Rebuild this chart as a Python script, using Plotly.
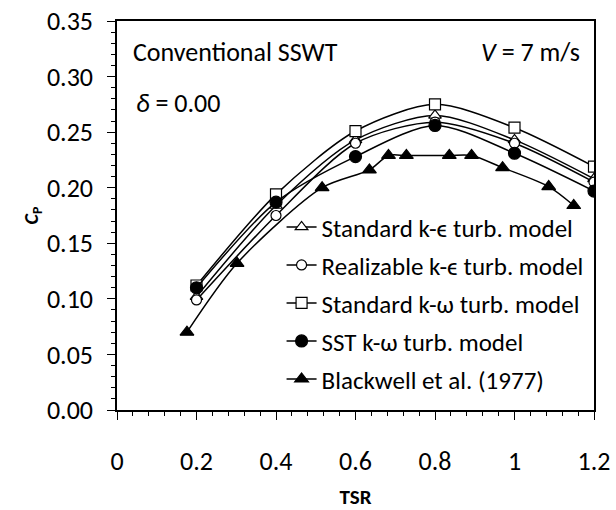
import plotly.graph_objects as go

# ---- data ----
tsr_cfd = [0.2, 0.4, 0.6, 0.8, 1.0, 1.2]
cp_std_ke = [0.102, 0.184, 0.243, 0.265, 0.243, 0.208]
cp_real_ke = [0.099, 0.175, 0.240, 0.259, 0.240, 0.205]
cp_std_kw = [0.112, 0.194, 0.251, 0.275, 0.254, 0.219]
cp_sst_kw = [0.110, 0.187, 0.228, 0.256, 0.231, 0.197]

tsr_exp = [0.176, 0.302, 0.516, 0.635, 0.683, 0.728, 0.836, 0.892, 0.970, 1.086, 1.149]
cp_exp = [0.070, 0.132, 0.200, 0.216, 0.229, 0.229, 0.229, 0.229, 0.218, 0.201, 0.184]

names = ["Standard k-ϵ turb. model", "Realizable k-ϵ turb. model",
         "Standard k-ω turb. model", "SST k-ω turb. model",
         "Blackwell et al. (1977)"]

x_ticks = [0, 0.2, 0.4, 0.6, 0.8, 1.0, 1.2]
x_ticktext = ["0", "0.2", "0.4", "0.6", "0.8", "1", "1.2"]
y_ticks = [0.00, 0.05, 0.10, 0.15, 0.20, 0.25, 0.30, 0.35]
y_ticktext = ["0.00", "0.05", "0.10", "0.15", "0.20", "0.25", "0.30", "0.35"]

FONT = "Carlito, Lato, sans-serif"

fig = go.Figure()

series = [
    (tsr_cfd, cp_std_ke, "triangle-up", "white", 11),
    (tsr_cfd, cp_real_ke, "circle", "white", 10),
    (tsr_cfd, cp_std_kw, "square", "white", 11),
    (tsr_cfd, cp_sst_kw, "circle", "black", 12),
    (tsr_exp, cp_exp, "triangle-up", "black", 12),
]
for i, (xs, ys, sym, fill, sz) in enumerate(series):
    fig.add_trace(go.Scatter(
        x=xs, y=ys, name=names[i], mode="lines+markers",
        legendgroup=f"g{i}",
        line=dict(color="black", width=1.5, shape="spline", smoothing=0.8),
        marker=dict(symbol=sym, size=sz, color=fill,
                    line=dict(color="black", width=1.2)),
    ))

fig.update_layout(
    width=616, height=510,
    margin=dict(l=117, r=22, t=21, b=100),
    paper_bgcolor="white", plot_bgcolor="white",
    font=dict(family=FONT, size=26, color="black"),
    showlegend=True,
    legend=dict(x=0.345, y=0.02, xanchor="left", yanchor="bottom",
                bgcolor="rgba(0,0,0,0)", borderwidth=0,
                font=dict(size=25, family=FONT),
                tracegroupgap=2.5, itemwidth=30),
    xaxis=dict(range=[0, 1.2], tickvals=x_ticks, ticktext=x_ticktext,
               automargin=False,
               showgrid=False, zeroline=False, showline=True, linecolor="black",
               linewidth=1.5, mirror=True, ticks="outside", ticklen=8,
               tickwidth=1.2, tickcolor="black", ticklabelstandoff=19,
               tickfont=dict(size=26),
               minor=dict(dtick=0.04, ticks="outside", ticklen=4,
                          tickcolor="black", tickwidth=1),
               title=dict(text="<b>TSR</b>", standoff=14,
                          font=dict(size=21, family=FONT))),
    yaxis=dict(range=[0, 0.35], tickvals=y_ticks, ticktext=y_ticktext,
               automargin=False,
               showgrid=False, zeroline=False, showline=True, linecolor="black",
               linewidth=1.5, mirror=True, ticks="outside", ticklen=8,
               tickwidth=1.2, tickcolor="black", ticklabelstandoff=9,
               tickfont=dict(size=26),
               minor=dict(dtick=0.01, ticks="outside", ticklen=4,
                          tickcolor="black", tickwidth=1),
               title=dict(text="<b><i>C</i><sub>P</sub></b>", standoff=3,
                          font=dict(size=20, family=FONT))),
)

fig.add_annotation(x=0.03, y=0.92, xref="paper", yref="paper",
                   text="Conventional SSWT", showarrow=False,
                   xanchor="left", yanchor="middle", font=dict(size=26))
fig.add_annotation(x=0.975, y=0.92, xref="paper", yref="paper",
                   text="<i>V</i> = 7 m/s", showarrow=False,
                   xanchor="right", yanchor="middle", font=dict(size=26))
fig.add_annotation(x=0.035, y=0.79, xref="paper", yref="paper",
                   text="<i>δ</i> = 0.00", showarrow=False,
                   xanchor="left", yanchor="middle", font=dict(size=26))

fig.write_html("out.html")
